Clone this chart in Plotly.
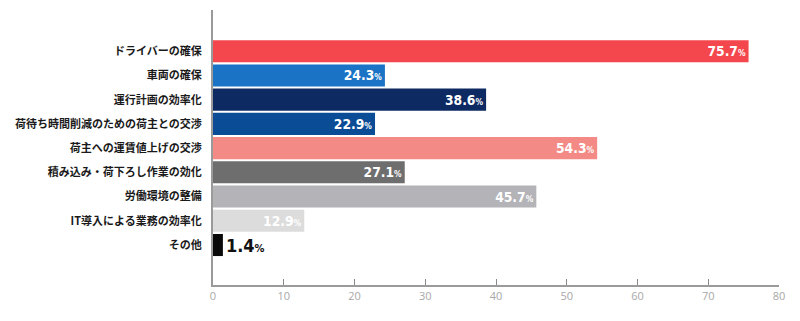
import plotly.graph_objects as go

# Survey items (top to bottom) and their shares in percent
categories = [
    "ドライバーの確保",
    "車両の確保",
    "運行計画の効率化",
    "荷待ち時間削減のための荷主との交渉",
    "荷主への運賃値上げの交渉",
    "積み込み・荷下ろし作業の効化",
    "労働環境の整備",
    "IT導入による業務の効率化",
    "その他",
]
values = [75.7, 24.3, 38.6, 22.9, 54.3, 27.1, 45.7, 12.9, 1.4]
x_ticks = [0, 10, 20, 30, 40, 50, 60, 70, 80]

bar_colors = ["#F4464D", "#1A73C4", "#0E2A62", "#0B4C97", "#F48A86",
              "#6E6E6E", "#B3B3B8", "#DCDCDC", "#0A0A0A"]

labels = [f"{v:.1f}<span style='font-size:11px'>%</span>" for v in values]
text_pos = ["inside" if v > 5 else "outside" for v in values]
text_col = ["#FFFFFF" if v > 5 else "#111111" for v in values]

fig = go.Figure(go.Bar(
    x=values,
    y=categories,
    orientation="h",
    marker=dict(color=bar_colors, line=dict(width=0)),
    text=labels,
    textposition=text_pos,
    insidetextanchor="end",
    textfont=dict(family="DejaVu Sans Condensed, Liberation Sans Narrow, sans-serif",
                  size=18, color=text_col, weight="bold"),
    cliponaxis=False,
    hoverinfo="skip",
))

fig.update_layout(
    width=800, height=321,
    margin=dict(l=213, r=21, t=10, b=36),
    paper_bgcolor="white", plot_bgcolor="white",
    bargap=0.09,
    showlegend=False,
    uniformtext=dict(mode=False),
)

fig.update_xaxes(
    range=[0, 80],
    tickvals=x_ticks,
    ticktext=[str(t) for t in x_ticks],
    showgrid=False, zeroline=False,
    showline=True, linecolor="#9A9A9A", linewidth=2,
    ticks="inside", ticklen=6, tickcolor="#8A8A8A", tickwidth=1,
    tickfont=dict(family="Open Sans, sans-serif", size=11, color="#A8A8A8"),
)

fig.update_yaxes(
    range=[9.65, -1.7],
    showgrid=False, zeroline=False,
    showline=True, linecolor="#9A9A9A", linewidth=2,
    ticks="", ticklabelstandoff=7,
    tickfont=dict(family="Noto Sans CJK JP, sans-serif", size=11, color="#1A1A1A", weight="bold"),
)

fig.write_html("out.html")
